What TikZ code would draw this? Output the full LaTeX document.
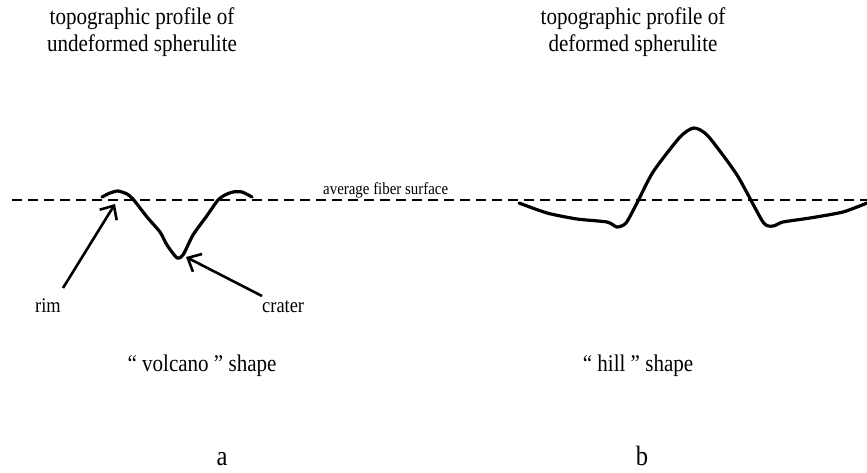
\documentclass[tikz,border=0pt]{standalone}
\usepackage{fontspec}
\setmainfont{Liberation Serif}
\usetikzlibrary{arrows.meta}
\newcommand{\narrowtxt}[1]{\scalebox{0.88}[1]{#1}}
\tikzset{
  profile/.style={line width=3.2bp, line join=round, line cap=round},
  pointer/.style={line width=2.6bp, -{Straight Barb[length=11bp,width=20bp,line width=2.6bp]}},
  avg/.style={line width=1.8bp, dash pattern=on 10bp off 6bp},
  lbl/.style={inner sep=0pt, anchor=base},
  head/.style={lbl, font=\fontsize{24}{27}\selectfont},
  big/.style={lbl, font=\fontsize{24}{27}\selectfont},
  small/.style={lbl, font=\fontsize{17}{20}\selectfont},
  mid/.style={lbl, font=\fontsize{21}{24}\selectfont},
}
\begin{document}
\begin{tikzpicture}[x=1bp,y=-1bp]
\useasboundingbox (0,0) rectangle (867,473);
% headers
\node[head] (ha1) at (142,25) {\narrowtxt{topographic profile of}};
\node[head] (ha2) at (142,52) {\narrowtxt{undeformed spherulite}};
\node[head] (hb1) at (633,25) {\narrowtxt{topographic profile of}};
\node[head] (hb2) at (633,52) {\narrowtxt{deformed spherulite}};
% average line
\coordinate (l0) at (12,200);
\coordinate (l1) at (867,200);
\draw[avg] (l0) -- (l1);
\node[small, anchor=base west] (avgt) at (323,195) {\narrowtxt{average fiber surface}};
% left profile
\draw[profile] plot[smooth, tension=0.4] coordinates {(102,197) (110,193) (118,191) (127,194) (133,199) (147,217) (160,232) (167,245) (177,258) (183,255) (193,235) (206,217) (218,200) (225,195) (233,192) (242,192) (252,197)};
% right profile
\draw[profile] plot[smooth, tension=0.4] coordinates {(519,203) (547,213) (577,219) (607,222) (617,227) (626,223) (637,203) (653,172) (680,137) (694,128) (708,136) (737,175) (763,222) (773,226) (783,222) (810,218) (843,212) (867,203)};
% labels with arrows
\node[mid] (rim) at (48,313) {\narrowtxt{rim}};
\node[mid, anchor=base west] (crater) at (262,313) {\narrowtxt{crater}};
\coordinate (rimtail) at (63,288);
\coordinate (rimtip) at (115,204);
\coordinate (crtail) at (262,296);
\coordinate (crtip) at (186,257);
\draw[pointer] (rimtail) -- (rimtip);
\draw[pointer] (crtail) -- (crtip);
% shape names
\node[big] (va) at (202,372) {\narrowtxt{“ volcano ” shape}};
\node[big] (hi) at (638,372) {\narrowtxt{“ hill ” shape}};
\node[lbl, font=\fontsize{28}{32}\selectfont] (a) at (222,465) {\narrowtxt{a}};
\node[lbl, font=\fontsize{28}{32}\selectfont] (b) at (642,465) {\narrowtxt{b}};
\end{tikzpicture}
\end{document}
